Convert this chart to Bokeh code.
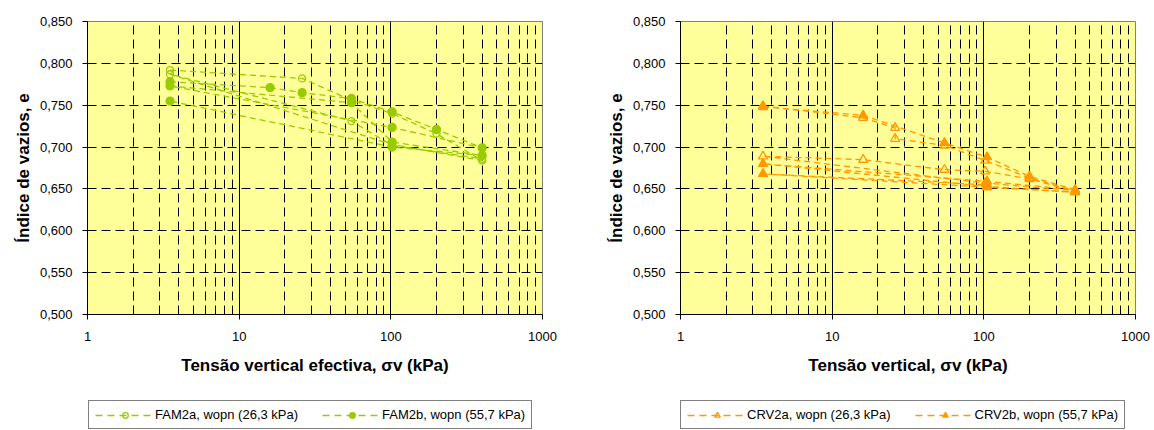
from bokeh.plotting import figure
from bokeh.layouts import row, column
from bokeh.models import (FixedTicker, CustomJSTickFormatter, Legend, LegendItem, Range1d)
from bokeh.embed import file_html
from bokeh.resources import INLINE

# ---------------- data ----------------
fam2a_s = [3.5, 26, 55, 102, 200, 400, 102, 3.5, 55, 102, 400]
fam2a_e = [0.792, 0.782, 0.756, 0.740, 0.716, 0.684, 0.703, 0.787, 0.731, 0.702, 0.686]

fam2b_s = [3.5, 16, 26, 55, 102, 200, 400, 102, 3.5, 55, 102, 400, 102, 3.5]
fam2b_e = [0.778, 0.771, 0.765, 0.758, 0.742, 0.721, 0.699, 0.7235, 0.773, 0.753, 0.706, 0.690, 0.700, 0.755]

crv2a_s = [3.5, 16, 26, 26, 55, 102, 200, 400, 102, 3.5, 16, 55, 102, 200, 400]
crv2a_e = [0.749, 0.735, 0.723, 0.710, 0.702, 0.684, 0.663, 0.648, 0.657, 0.689, 0.685, 0.673, 0.671, 0.662, 0.647]

crv2b_s = [3.5, 16, 55, 105, 200, 400, 105, 3.5, 105, 400, 105, 3.5, 105]
crv2b_e = [0.748, 0.738, 0.705, 0.688, 0.665, 0.649, 0.659, 0.680, 0.653, 0.646, 0.652, 0.668, 0.655]

y_ticks = [0.50, 0.55, 0.60, 0.65, 0.70, 0.75, 0.80, 0.85]
x_ticks = [1, 10, 100, 1000]
x_minor = [m * d for d in (1, 10, 100) for m in range(2, 10)]

left_labels = ["FAM2a, wopn (26,3 kPa)", "FAM2b, wopn (55,7 kPa)"]
right_labels = ["CRV2a, wopn (26,3 kPa)", "CRV2b, wopn (55,7 kPa)"]

GREEN = "#99CC00"
ORANGE = "#FF9900"
FONT = "Liberation Sans"
DASH = "6 4"
NAN = float("nan")


def make_fig(xlabel, width, border_left, border_right):
    p = figure(width=width, height=400, x_axis_type="log",
               x_range=Range1d(1, 1000), y_range=Range1d(0.5, 0.85),
               output_backend="svg", toolbar_location=None,
               min_border_left=border_left, min_border_right=border_right,
               min_border_top=21, min_border_bottom=86)
    p.border_fill_color = "white"
    p.background_fill_color = "#FFFF99"
    p.outline_line_color = "#808080"
    p.outline_line_width = 1

    p.xaxis.ticker = FixedTicker(ticks=x_ticks, minor_ticks=x_minor)
    p.yaxis.ticker = FixedTicker(ticks=y_ticks, minor_ticks=[])
    p.xaxis.formatter = CustomJSTickFormatter(code="return tick.toFixed(0);")
    p.yaxis.formatter = CustomJSTickFormatter(code="return tick.toFixed(3).replace('.', ',');")

    for ax in (p.xaxis[0], p.yaxis[0]):
        ax.axis_line_color = "black"
        ax.major_tick_line_color = "black"
        ax.major_tick_out = 5
        ax.major_tick_in = 0
        ax.minor_tick_out = 0
        ax.minor_tick_in = 0
        ax.major_label_text_font = FONT
        ax.major_label_text_font_size = "13px"
        ax.major_label_text_color = "black"
        ax.axis_label_text_font = FONT
        ax.axis_label_text_font_size = "17px"
        ax.axis_label_text_font_style = "bold"
        ax.axis_label_text_color = "black"

    p.xaxis.axis_label = xlabel
    p.xaxis.major_label_standoff = 12
    p.xaxis.axis_label_standoff = 12
    p.yaxis.axis_label = "Índice de vazios, e"
    p.yaxis.major_label_standoff = 10
    p.yaxis.axis_label_standoff = 4

    p.xgrid.grid_line_color = "black"
    p.xgrid.grid_line_width = 1
    p.xgrid.minor_grid_line_color = "black"
    p.xgrid.minor_grid_line_dash = "9 5"
    p.xgrid.minor_grid_line_width = 1
    p.ygrid.grid_line_color = "black"
    p.ygrid.grid_line_dash = "9 5"
    p.ygrid.grid_line_width = 1
    return p


def add_series(p, xs, ys, color, marker, filled, size):
    p.line(xs, ys, line_color=color, line_width=1.3, line_dash=DASH)
    p.scatter(xs, ys, marker=marker, size=size, line_color=color, line_width=1.3,
              fill_color=color if filled else None)


def legend_fig(width, x0, labels, color, marker, sizes):
    lf = figure(width=width, height=29, output_backend="svg", toolbar_location=None,
                x_axis_location=None, y_axis_location=None,
                x_range=Range1d(0, 1), y_range=Range1d(0, 1),
                min_border=0, min_border_top=0, min_border_bottom=0)
    lf.outline_line_color = None
    lf.xgrid.visible = False
    lf.ygrid.visible = False
    lf.border_fill_color = "white"
    lf.background_fill_color = "white"
    items = []
    for lab, filled, sz in zip(labels, (False, True), sizes):
        ln = lf.line([NAN], [NAN], line_color=color, line_width=1.3, line_dash="7 5")
        sc = lf.scatter([NAN], [NAN], marker=marker, size=sz, line_color=color, line_width=1.3,
                        fill_color=color if filled else None)
        items.append(LegendItem(label=lab, renderers=[ln, sc]))
    leg = Legend(items=items, location=(x0, 0), orientation="horizontal",
                 label_text_font=FONT, label_text_font_size="13px",
                 label_text_color="black", glyph_width=60, glyph_height=14,
                 label_height=14, label_standoff=0, spacing=24, padding=6, margin=0,
                 border_line_color="black", border_line_width=1,
                 background_fill_color="white", background_fill_alpha=1)
    lf.add_layout(leg, "center")
    return lf


p1 = make_fig("Tensão vertical efectiva, σv (kPa)", 569, 87, 27)
add_series(p1, fam2a_s, fam2a_e, GREEN, "circle", False, 7)
add_series(p1, fam2b_s, fam2b_e, GREEN, "circle", True, 8)
l1 = legend_fig(569, 1, left_labels, GREEN, "circle", (7, 8))

p2 = make_fig("Tensão vertical, σv (kPa)", 585, 111, 19)
add_series(p2, crv2a_s, crv2a_e, ORANGE, "triangle", False, 9)
add_series(p2, crv2b_s, crv2b_e, ORANGE, "triangle", True, 9)
l2 = legend_fig(585, 0, right_labels, ORANGE, "triangle", (9, 9))

layout = row(column(p1, l1), column(p2, l2))
open("out.html", "w").write(file_html(layout, INLINE))
